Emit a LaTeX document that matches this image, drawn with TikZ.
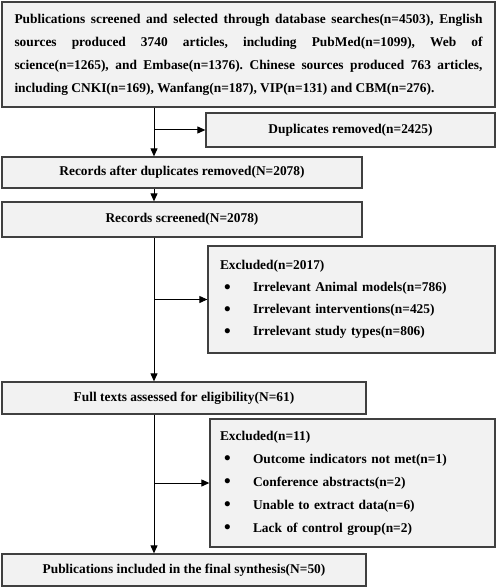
\documentclass[tikz,border=0pt]{standalone}
\usepackage{fontspec}
\setmainfont{Liberation Serif}
\usetikzlibrary{arrows.meta}
\tikzset{
  box/.style={draw=black!75, line width=1.3pt, fill=gray!10, inner sep=0pt,
    font=\fontsize{13.4}{23}\selectfont\bfseries},
  arr/.style={-{Triangle[length=8pt,width=7pt]}, line width=1pt},
}
\newcommand{\itm}{\makebox[33pt][l]{\hspace{4pt}\raisebox{-1.6pt}{\fontsize{19}{19}\selectfont\textbullet}}}

\begin{document}
\begin{tikzpicture}[x=1pt,y=-1pt]
\useasboundingbox (0,0) rectangle (498,588);
\coordinate (spine) at (154,0);
\node[box, minimum width=493pt, minimum height=105pt, text width=468pt, align=justify] (search) at (248.5,54.5)
  {\frenchspacing Publications screened and selected through database searches(n=4503), English\linebreak
   sources produced 3740 articles, including PubMed(n=1099), Web of\linebreak
   science(n=1265), and Embase(n=1376). Chinese sources produced 763 articles,\linebreak
   including CNKI(n=169), Wanfang(n=187), VIP(n=131) and CBM(n=276).};
\node[box, minimum width=289pt, minimum height=34pt] (dup) at (350.5,130) {Duplicates removed(n=2425)};
\node[box, minimum width=360pt, minimum height=31pt] (recdup) at (182,172.5) {Records after duplicates removed(N=2078)};
\node[box, minimum width=360pt, minimum height=35pt] (screen) at (182,219.5) {Records screened(N=2078)};
\node[box, minimum width=287pt, minimum height=107pt, text width=263pt, align=left,
  font=\fontsize{13.4}{22}\selectfont\bfseries] (excl1) at (351.5,299.5)
  {Excluded(n=2017)\\
   \itm Irrelevant Animal models(n=786)\\
   \itm Irrelevant interventions(n=425)\\
   \itm Irrelevant study types(n=806)};
\node[box, minimum width=364pt, minimum height=32pt] (full) at (184,398) {Full texts assessed for eligibility(N=61)};
\node[box, minimum width=285pt, minimum height=128pt, text width=265pt, align=left] (excl2) at (352.5,483)
  {Excluded(n=11)\\
   \itm Outcome indicators not met(n=1)\\
   \itm Conference abstracts(n=2)\\
   \itm Unable to extract data(n=6)\\
   \itm Lack of control group(n=2)};
\node[box, minimum width=364pt, minimum height=32pt] (final) at (184,570) {Publications included in the final synthesis(N=50)};

\draw[arr] (search.south -| spine) -- (recdup.north -| spine);
\draw[arr] (dup.west -| spine) -- (dup.west);
\draw[arr] (recdup.south -| spine) -- (screen.north -| spine);
\draw[arr] (screen.south -| spine) -- (full.north -| spine);
\draw[arr] (excl1.west -| spine) -- (excl1.west);
\draw[arr] (full.south -| spine) -- (final.north -| spine);
\draw[arr] (excl2.west -| spine) -- (excl2.west);
\end{tikzpicture}
\end{document}
